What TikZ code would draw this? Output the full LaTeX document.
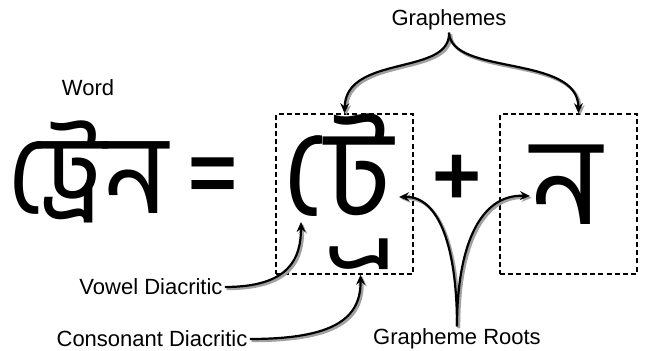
\documentclass[tikz,border=0pt]{standalone}
\usepackage{fontspec}
\setmainfont{Liberation Sans}
\newfontfamily\bengfont[Script=Bengali]{Hind Siliguri}
\usetikzlibrary{arrows.meta,positioning}
\definecolor{grInk}{HTML}{000000}
\definecolor{grShadow}{HTML}{A0A0A0}
\tikzset{
  every picture/.style={font=\fontsize{11}{13}\selectfont, text=grInk},
  gr label/.style={inner sep=1pt},
  gr word/.style={font=\bengfont\fontsize{56}{56}\selectfont, inner sep=0pt},
  gr glyph/.style={font=\bengfont\fontsize{62}{62}\selectfont, inner sep=0pt},
  gr op/.style={font=\bfseries\fontsize{42}{42}\selectfont, inner sep=0pt},
  gr box/.style={draw=grInk, line width=0.7pt, dash pattern=on 2.5pt off 1.6pt,
    minimum width=68.5pt, minimum height=80pt, inner sep=0pt},
  gr arrow/.style={-{Stealth[length=5pt,width=4.4pt]}, draw=grInk, line width=1.1pt,
    preaction={draw=grShadow, line width=1.4pt,
      transform canvas={shift={(0.9pt,-0.9pt)}}}}
}

\begin{document}
\begin{tikzpicture}[x=0.5pt,y=-0.5pt]
  \useasboundingbox (0,0) rectangle (645,351);
  % the word
  \node[gr label] (wordlbl) at (88,88) {Word};
  \node[gr word] (word) at (88,172) {ট্রেন};
  \node[gr op] (eq) at (213,180) {=};
  % grapheme boxes
  \node[gr box] (gbox1) at (344.5,194) {};
  \node[gr box] (gbox2) at (568.5,194) {};
  % vowel sign, cut out of its cluster
  \begin{scope}
    \clip (278,120) rectangle (322,230);
    \node[gr glyph, anchor=base west] (ekar) at (282,216) {টে};
  \end{scope}
  \node[gr glyph, anchor=base] (tta) at (359,217) {ট};
  % ra-phala, its placeholder dash cut away
  \begin{scope}
    \clip (318,235) rectangle (405,270);
    \node[gr word, anchor=base] (rafala) at (352,258) {^^^^2014্র};
  \end{scope}
  \node[gr op] (plus) at (457,180) {+};
  \node[gr glyph] (na) at (567,185) {ন};
  % labels
  \node[gr label] (graphemes) at (449,20) {Graphemes};
  \node[gr label] (vowel) at (151,287) {Vowel Diacritic};
  \node[gr label] (cons) at (152,339) {Consonant Diacritic};
  \node[gr label] (roots) at (457,339) {Grapheme Roots};
  \coordinate (ekartip) at (301,222);
  \coordinate (rootL) at (399,197);
  \coordinate (rootR) at (530,196);
  % connectors
  \draw[gr arrow] (graphemes.south) .. controls (451,76) and (346,54) .. (gbox1.north);
  \draw[gr arrow] (graphemes.south) .. controls (451,76) and (578,54) .. ([xshift=5pt]gbox2.north);
  \draw[gr arrow] (vowel.east) .. controls (290,287) and (301,258) .. (ekartip);
  \draw[gr arrow] (cons.east) .. controls (335,339) and (361,318) .. ([xshift=8pt]gbox1.south);
  \draw[gr arrow] (roots.north) .. controls (457,250) and (440,196) .. (rootL);
  \draw[gr arrow] (roots.north) .. controls (457,250) and (478,194) .. (rootR);
\end{tikzpicture}
\end{document}
